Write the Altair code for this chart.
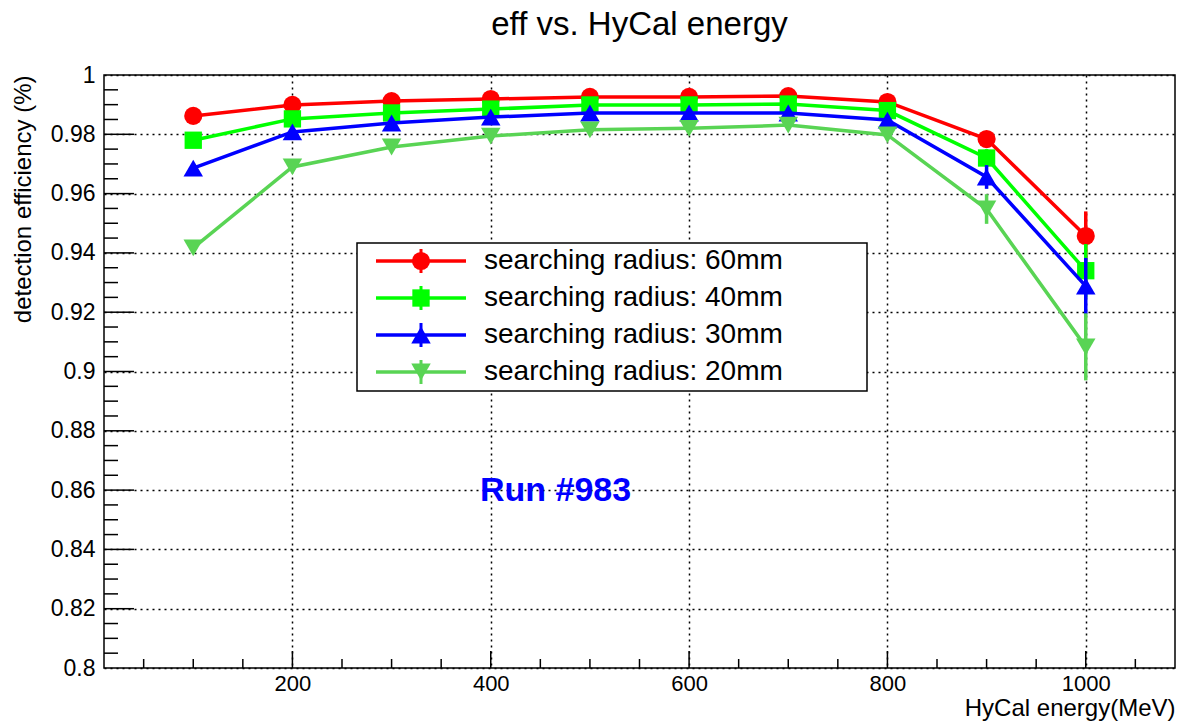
import altair as alt
import pandas as pd
import numpy as np

# ---------------- data ----------------
energy = [100, 200, 300, 400, 500, 600, 700, 800, 900, 1000]

eff_60 = [0.9862, 0.9899, 0.9912, 0.9919, 0.9926, 0.9926, 0.9929, 0.9909, 0.9784, 0.9457]
err_60 = [0.0008, 0.0007, 0.0007, 0.0007, 0.0007, 0.0008, 0.0009, 0.0012, 0.0025, 0.0083]
eff_40 = [0.9780, 0.9852, 0.9872, 0.9885, 0.9899, 0.9899, 0.9902, 0.9880, 0.9720, 0.9340]
err_40 = [0.0010, 0.0009, 0.0009, 0.0009, 0.0008, 0.0009, 0.0010, 0.0014, 0.0030, 0.0090]
eff_30 = [0.9686, 0.9808, 0.9838, 0.9858, 0.9872, 0.9872, 0.9872, 0.9848, 0.9656, 0.9288]
err_30 = [0.0012, 0.0010, 0.0010, 0.0009, 0.0009, 0.0010, 0.0011, 0.0016, 0.0040, 0.0095]
eff_20 = [0.9417, 0.9690, 0.9757, 0.9794, 0.9815, 0.9820, 0.9831, 0.9798, 0.9548, 0.9083]
err_20 = [0.0018, 0.0013, 0.0012, 0.0011, 0.0011, 0.0012, 0.0013, 0.0018, 0.0050, 0.0113]

labels = ["searching radius: 60mm", "searching radius: 40mm",
          "searching radius: 30mm", "searching radius: 20mm"]
colors = ["#ff0000", "#00ff00", "#0000ff", "#59d454"]
shapes = ["circle", "square", "triangle-up", "triangle-down"]
sizes = [330, 300, 380, 380]

x_major = [200, 400, 600, 800, 1000]
x_minor = [v for v in range(50, 1090, 50) if v not in x_major]
y_major = [0.82, 0.84, 0.86, 0.88, 0.90, 0.92, 0.94, 0.96, 0.98]
y_minor = [round(0.8 + 0.005 * i, 3) for i in range(1, 40) if i % 4 != 0]

title_text = "eff vs. HyCal energy"
x_title = "HyCal energy(MeV)"
y_title = "detection efficiency (%)"
run_text = "Run #983"

# ---------------- layout ----------------
W, H = 1071, 593
FONT = "Liberation Sans"

xscale = alt.Scale(domain=[10, 1090], nice=False, zero=False)
yscale = alt.Scale(domain=[0.8, 1.0], nice=False, zero=False)

xaxis = alt.Axis(values=x_major, title=x_title, grid=True, ticks=False, domain=False,
                 format="d",
                 labelFontSize=22, labelPadding=5, labelFont=FONT, labelColor="black",
                 gridColor="black", gridDash=[2, 4], gridWidth=1.5,
                 titleFont=FONT, titleFontSize=24, titleFontWeight="normal",
                 titleColor="black", titleAnchor="end", titleAlign="right",
                 titleX=W, titleY=40, titleBaseline="middle")
yaxis = alt.Axis(values=y_major + [0.8, 1.0], title=y_title, grid=True, ticks=False,
                 domain=False, labelFontSize=23, labelPadding=9, labelFont=FONT,
                 labelColor="black", labelExpr="format(datum.value, '.2~f')",
                 gridColor="black", gridDash=[2, 4], gridWidth=1.5,
                 titleFont=FONT, titleFontSize=24, titleFontWeight="normal",
                 titleColor="black", titleAngle=270, titleAlign="right",
                 titleX=-81, titleY=0, titleBaseline="middle")

X = lambda f: alt.X(f"{f}:Q", scale=xscale, axis=xaxis)
Y = lambda f: alt.Y(f"{f}:Q", scale=yscale, axis=yaxis)

layers = []

# tick marks (inside, ROOT style)
xt_major = pd.DataFrame({"E": x_major})
xt_minor = pd.DataFrame({"E": x_minor})
yt_major = pd.DataFrame({"v": y_major})
yt_minor = pd.DataFrame({"v": y_minor})
layers.append(alt.Chart(xt_major).mark_rule(color="black", strokeWidth=1.5).encode(
    x=X("E"), y=alt.value(H), y2=alt.value(H - 17)))
layers.append(alt.Chart(xt_minor).mark_rule(color="black", strokeWidth=1.5).encode(
    x=X("E"), y=alt.value(H), y2=alt.value(H - 9)))
layers.append(alt.Chart(yt_major).mark_rule(color="black", strokeWidth=1.5).encode(
    y=Y("v"), x=alt.value(0), x2=alt.value(30)))
layers.append(alt.Chart(yt_minor).mark_rule(color="black", strokeWidth=1.5).encode(
    y=Y("v"), x=alt.value(0), x2=alt.value(14)))

# series
all_eff = [eff_60, eff_40, eff_30, eff_20]
all_err = [err_60, err_40, err_30, err_20]
for lab, eff, err, col, shp, sz in zip(labels, all_eff, all_err, colors, shapes, sizes):
    df = pd.DataFrame({"E": energy, "v": eff, "err": err})
    df["lo"] = df["v"] - df["err"]
    df["hi"] = df["v"] + df["err"]
    base = alt.Chart(df)
    layers.append(base.mark_line(color=col, strokeWidth=3.5).encode(x=X("E"), y=Y("v")))
    layers.append(base.mark_rule(color=col, strokeWidth=3.5).encode(
        x=X("E"), y=Y("lo"), y2="hi"))
    layers.append(base.mark_point(shape=shp, filled=True, color=col, size=sz, opacity=1).encode(
        x=X("E"), y=Y("v")))

# legend box (drawn manually, ROOT style)
one = pd.DataFrame({"k": [0]})
LX0, LX1, LY0, LY1 = 253, 763, 168, 316
layers.append(alt.Chart(one).mark_rect(fill="white", stroke="black", strokeWidth=1.5).encode(
    x=alt.value(LX0), x2=alt.value(LX1), y=alt.value(LY0), y2=alt.value(LY1)))
row_y = [186, 223, 260, 297]
for lab, col, shp, sz, ry in zip(labels, colors, shapes, sizes, row_y):
    layers.append(alt.Chart(one).mark_rule(color=col, strokeWidth=3.5).encode(
        x=alt.value(272), x2=alt.value(362), y=alt.value(ry)))
    layers.append(alt.Chart(one).mark_rule(color=col, strokeWidth=3).encode(
        x=alt.value(317), y=alt.value(ry - 12), y2=alt.value(ry + 12)))
    layers.append(alt.Chart(one).mark_point(shape=shp, filled=True, color=col, size=sz,
                                            opacity=1).encode(
        x=alt.value(317), y=alt.value(ry)))
    layers.append(alt.Chart(one).mark_text(text=lab, font=FONT, fontSize=28, align="left",
                                           baseline="middle", color="black").encode(
        x=alt.value(380), y=alt.value(ry)))

# run label
layers.append(alt.Chart(one).mark_text(text=run_text, font=FONT, fontSize=34,
                                       fontWeight="bold", align="left", baseline="middle",
                                       color="#0000ff").encode(
    x=alt.value(376), y=alt.value(416)))

# chart title (as text so it sits exactly like the reference)
layers.append(alt.Chart(one).mark_text(text=title_text, font=FONT, fontSize=33,
                                       align="center", baseline="middle",
                                       color="black").encode(
    x=alt.value(W / 2), y=alt.value(-50)))

chart = alt.layer(*layers).properties(
    width=W, height=H,
    padding={"left": 104, "top": 75, "right": 3, "bottom": 55},
    autosize=alt.AutoSizeParams(type="none"),
    background="white",
).configure_view(stroke="black", strokeWidth=1.5)

chart.save("out.html", embed_options={"renderer": "svg", "actions": False})
